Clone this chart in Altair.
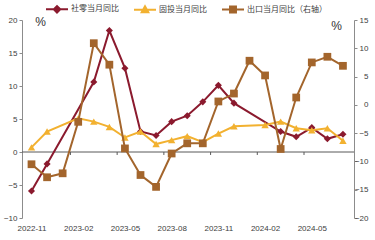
import json
import pandas as pd
import altair as alt

months = ["2022-11", "2022-12", "2023-01", "2023-02", "2023-03", "2023-04", "2023-05",
          "2023-06", "2023-07", "2023-08", "2023-09", "2023-10", "2023-11", "2023-12",
          "2024-01", "2024-02", "2024-03", "2024-04", "2024-05", "2024-06", "2024-07"]
retail = [-5.9, -1.8, None, None, 10.6, 18.4, 12.7, 3.1, 2.5, 4.6, 5.5, 7.6, 10.1, 7.4,
          None, None, 3.1, 2.3, 3.7, 2.0, 2.7]
fai = [0.7, 3.1, None, 5.1, 4.6, 3.8, 2.2, 3.1, 1.2, 1.8, 2.4, 1.5, 2.8, 3.9,
       None, 4.1, 4.6, 3.6, 3.3, 3.6, 1.7]
exports = [-10.5, -12.8, -12.1, -3.0, 10.9, 7.1, -7.7, -12.4, -14.5, -8.6, -6.8, -6.8,
           0.6, 2.0, 7.8, 5.2, -7.8, 1.3, 7.5, 8.5, 6.9]

series_names = ["社零当月同比", "固投当月同比", "出口当月同比（右轴）"]
series_colors = ["#8b1a2e", "#f2b130", "#a3652c"]
legend_paths = [
    "M-1,0H1M-0.3,0L0,-0.3L0.3,0L0,0.3Z",
    "M-1,0H1M-0.3,0.22L0.3,0.22L0,-0.32Z",
    "M-1,0H1M-0.27,-0.27H0.27V0.27H-0.27Z",
]
label_idx = [0, 3, 6, 9, 12, 15, 18]
x_tick_positions = [2.5, 5.5, 8.5, 11.5, 14.5, 17.5]
left_ticks = [-10, -5, 0, 5, 10, 15, 20]
right_ticks = [-20, -15, -10, -5, 0, 5, 10, 15]


def frame(values):
    return pd.DataFrame([{"i": i, "m": m, "v": v}
                         for i, (m, v) in enumerate(zip(months, values)) if v is not None])


label_expr = json.dumps(months) + "[datum.value]"
x_enc = alt.X("i:Q",
              scale=alt.Scale(domain=[-0.61, 20.71], nice=False, zero=False),
              axis=alt.Axis(values=label_idx, labelExpr=label_expr, domain=False,
                            ticks=False, grid=False, labelPadding=6, title=None,
                            labelFontSize=8, labelColor="#404040",
                            labelFont="Liberation Sans"))

left_axis = alt.Axis(values=left_ticks, grid=False, tickSize=3, labelPadding=2,
                     title="%", titleAngle=0, titleX=18, titleY=1.5,
                     titleAlign="center", titleBaseline="middle",
                     titleFontSize=12, titleFontWeight="normal", titleColor="#333333",
                     titleFont="Liberation Sans")
right_axis = alt.Axis(values=right_ticks, orient="right", grid=False, tickSize=3,
                      labelPadding=11, labelAlign="right",
                      title="%", titleAngle=0, titleX=-18, titleY=5,
                      titleAlign="center", titleBaseline="middle",
                      titleFontSize=12, titleFontWeight="normal", titleColor="#333333",
                      titleFont="Liberation Sans")
left_scale = alt.Scale(domain=[-10, 20], nice=False, zero=False)
right_scale = alt.Scale(domain=[-20, 15], nice=False, zero=False)

y_left = alt.Y("v:Q", scale=left_scale, axis=left_axis)
y_right = alt.Y("v:Q", scale=right_scale, axis=right_axis)

zero_df = pd.DataFrame({"v": [0]})
zero_rule = alt.Chart(zero_df).mark_rule(color="#595959", strokeWidth=1).encode(y=y_left)

ticks_df = pd.DataFrame({"i": x_tick_positions, "v": [0] * len(x_tick_positions),
                         "v2": [-0.45] * len(x_tick_positions)})
tick_marks = alt.Chart(ticks_df).mark_rule(color="#595959", strokeWidth=1).encode(
    x=x_enc, y=y_left, y2="v2:Q")

red = alt.Chart(frame(retail)).mark_line(
    color=series_colors[0], strokeWidth=2,
    point=alt.OverlayMarkDef(shape="diamond", size=50, filled=True, color=series_colors[0])
).encode(x=x_enc, y=y_left)

yellow = alt.Chart(frame(fai)).mark_line(
    color=series_colors[1], strokeWidth=2,
    point=alt.OverlayMarkDef(shape="triangle-up", size=55, filled=True, color=series_colors[1])
).encode(x=x_enc, y=y_left)

brown = alt.Chart(frame(exports)).mark_line(
    color=series_colors[2], strokeWidth=2,
    point=alt.OverlayMarkDef(shape="square", size=60, filled=True, color=series_colors[2])
).encode(x=x_enc, y=y_right)

legend = alt.Legend(orient="none", legendX=23, legendY=-23, direction="horizontal",
                    title=None, symbolSize=484, symbolStrokeWidth=2, symbolOpacity=1,
                    labelFont="Noto Sans CJK SC", labelFontSize=8, labelColor="#404040",
                    labelOffset=2, columnPadding=11)
leg_df = pd.DataFrame({"name": series_names})
legend_layer = alt.Chart(leg_df).mark_point(opacity=0, filled=True).encode(
    fill=alt.Fill("name:N", scale=alt.Scale(domain=series_names, range=series_colors),
                  legend=legend),
    stroke=alt.Stroke("name:N", scale=alt.Scale(domain=series_names, range=series_colors),
                      legend=legend),
    shape=alt.Shape("name:N", scale=alt.Scale(domain=series_names, range=legend_paths),
                    legend=legend),
)

left = alt.layer(zero_rule, tick_marks, red, yellow, legend_layer)
chart = alt.layer(left, brown).resolve_scale(y="independent").properties(
    width=332, height=198,
    autosize=alt.AutoSizeParams(type="none"),
    padding={"left": 22, "top": 20, "right": 21, "bottom": 22},
    background="#ffffff",
).configure_view(stroke=None).configure_axis(
    domainColor="#8c8c8c", tickColor="#8c8c8c", labelColor="#404040",
    labelFont="Liberation Sans", labelFontSize=8,
)

chart.save("out.html", embed_options={"renderer": "svg", "actions": False})
